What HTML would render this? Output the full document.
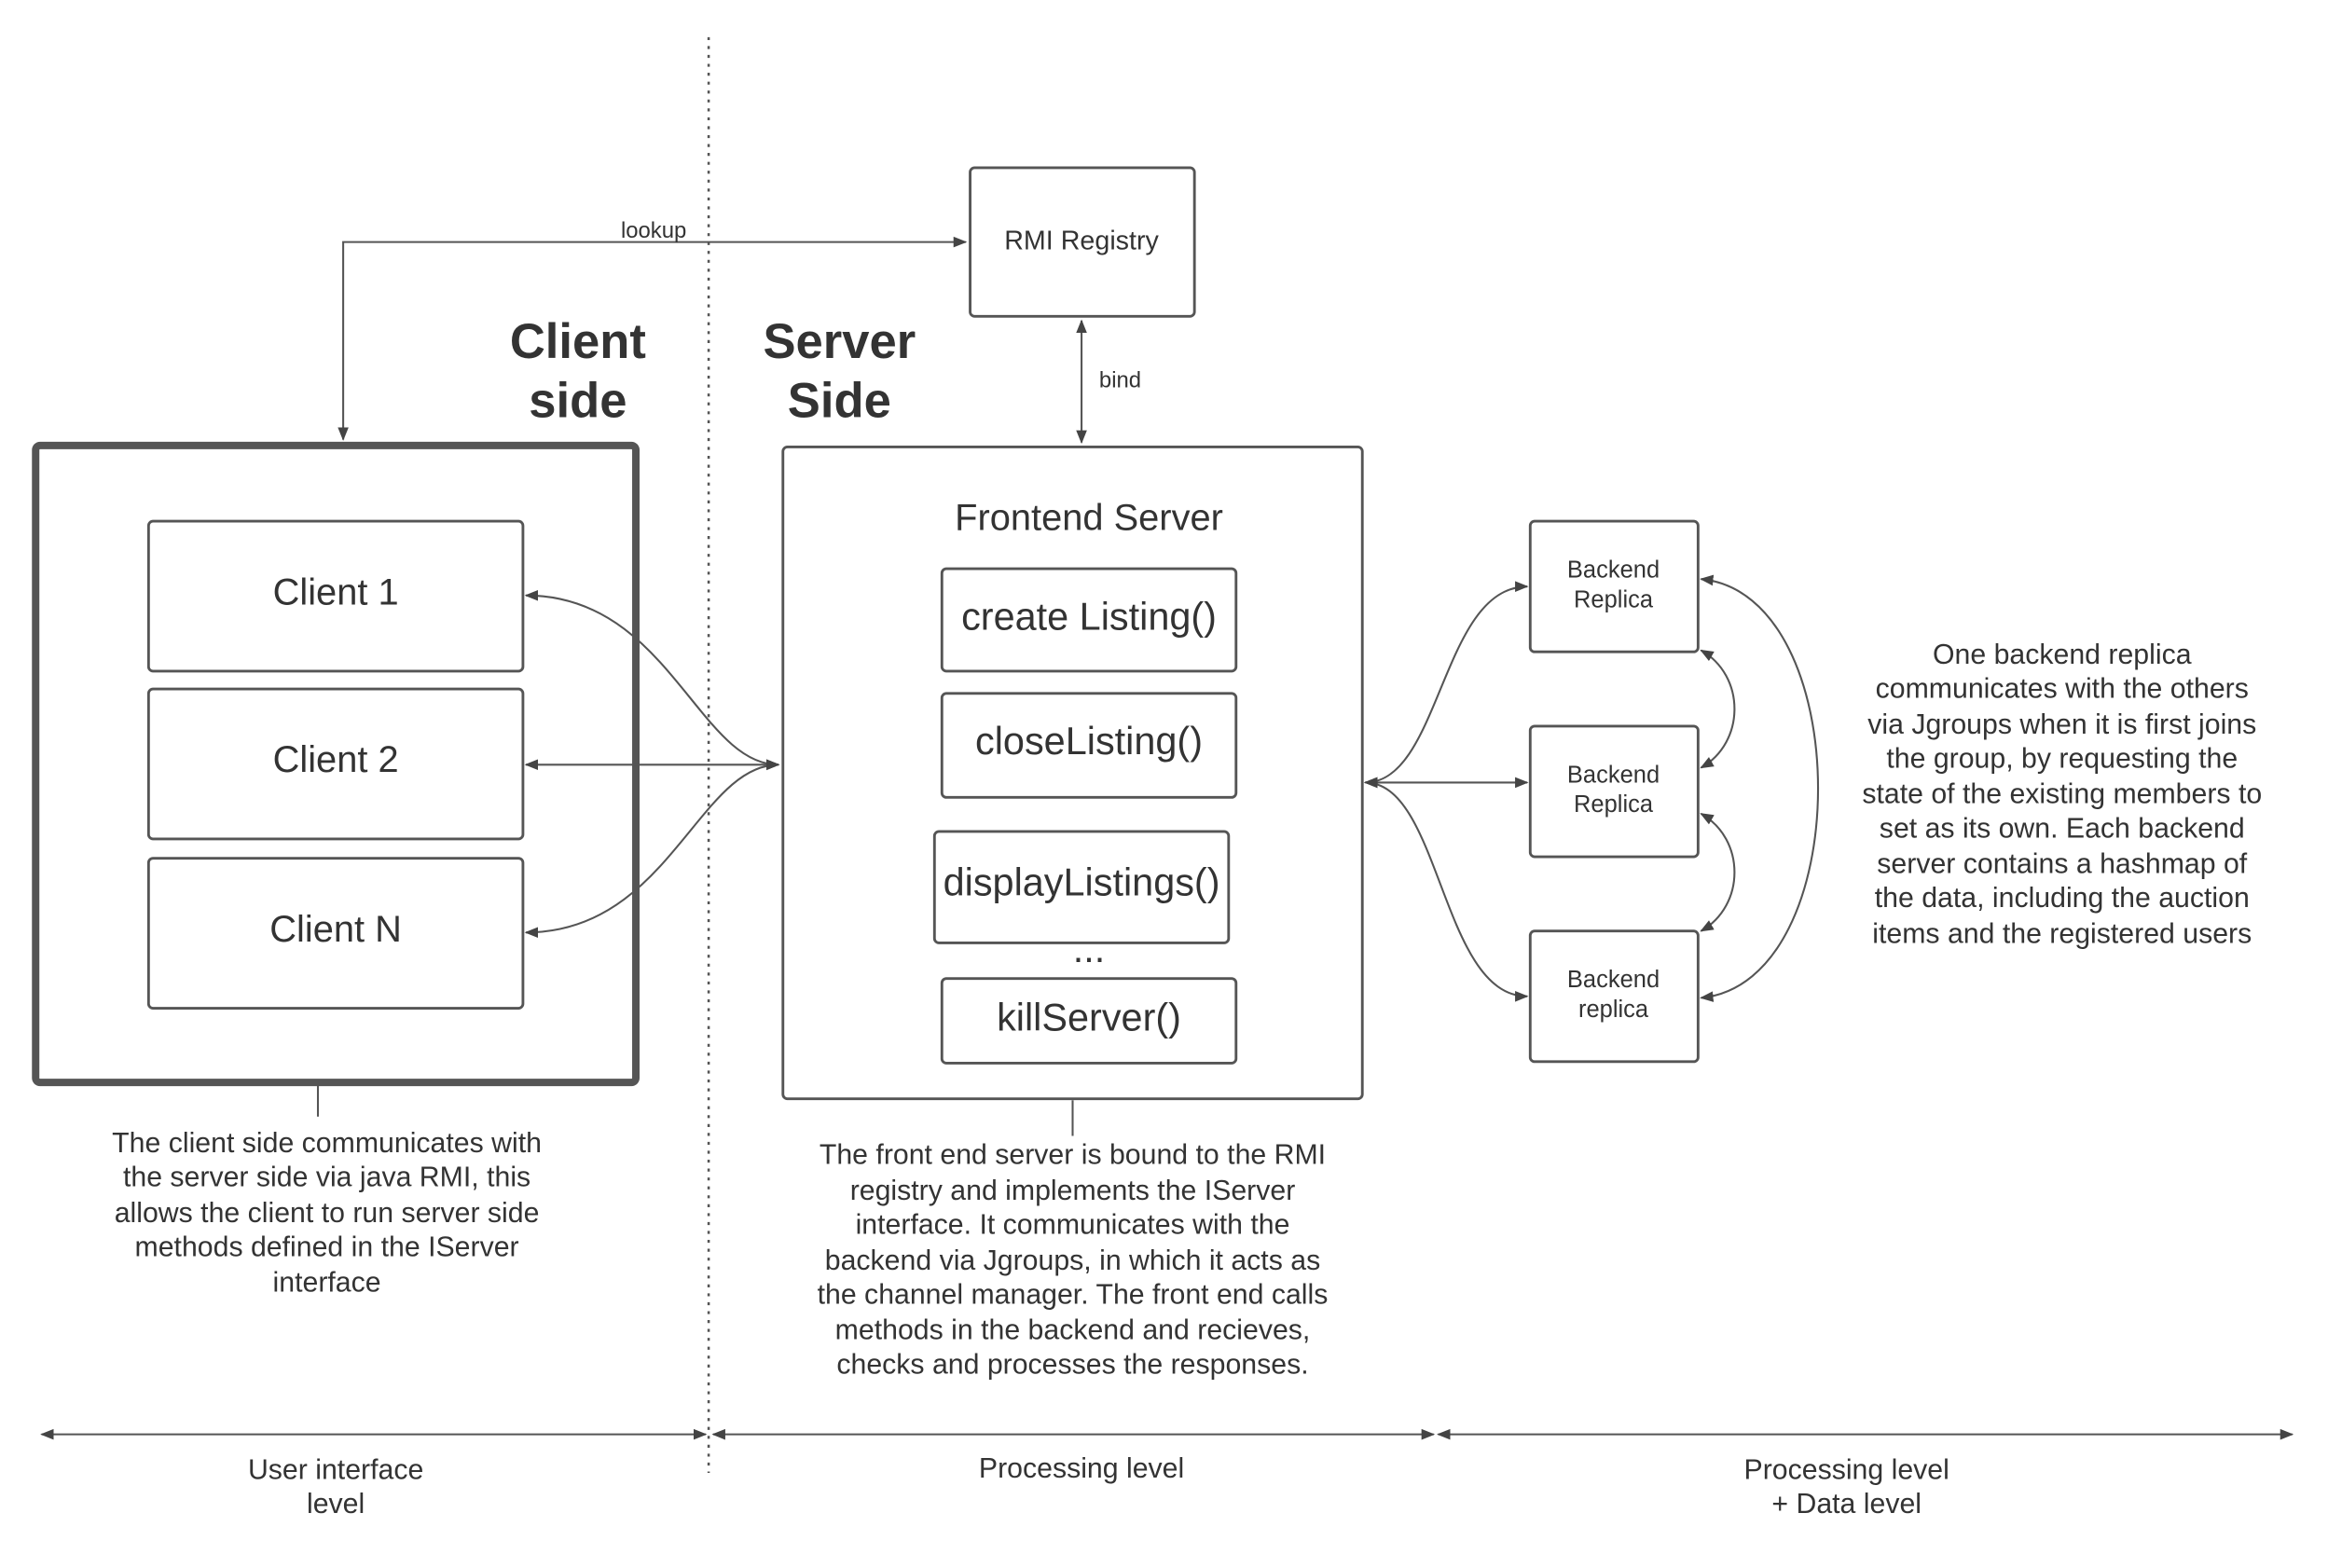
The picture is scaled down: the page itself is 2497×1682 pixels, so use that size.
<!DOCTYPE html>
<html><head><meta charset="utf-8"><style>
html,body{margin:0;padding:0;background:#fff;}
svg{display:block;}
text{font-family:"Liberation Sans",sans-serif;fill:#333;}
</style></head><body>
<svg width="2497" height="1682" viewBox="0 0 1567 1056" preserveAspectRatio="none" xmlns="http://www.w3.org/2000/svg">
<defs>
<marker id="a" viewBox="0 0 10 10" refX="9" refY="5" markerWidth="7" markerHeight="7" orient="auto-start-reverse"><path d="M0,1 L10,5 L0,9 z" fill="#444"/></marker>
</defs>
<g fill="none" stroke="#555" stroke-width="1.3">
<line x1="477" y1="25" x2="477" y2="992" stroke-dasharray="2,4" stroke-width="1.6"/>
<rect x="653" y="113" width="151" height="100" rx="3" stroke-width="1.8"/>
<polyline points="231,296 231,163 650,163" marker-start="url(#a)" marker-end="url(#a)"/>
<line x1="728" y1="216" x2="728" y2="298" marker-start="url(#a)" marker-end="url(#a)"/>
<rect x="24" y="300" width="404" height="429" rx="3" stroke-width="5"/>
<rect x="100" y="351" width="252" height="101" rx="3" stroke-width="1.8"/>
<rect x="100" y="464" width="252" height="101" rx="3" stroke-width="1.8"/>
<rect x="100" y="578" width="252" height="101" rx="3" stroke-width="1.8"/>
<rect x="527" y="301" width="390" height="439" rx="3" stroke-width="1.8"/>
<rect x="634" y="383" width="198" height="69" rx="3" stroke-width="1.8"/>
<rect x="634" y="467" width="198" height="70" rx="3" stroke-width="1.8"/>
<rect x="629" y="560" width="198" height="75" rx="3" stroke-width="1.8"/>
<rect x="634" y="659" width="198" height="57" rx="3" stroke-width="1.8"/>
<path d="M524,515 C470,515 450,401 354,401" marker-start="url(#a)" marker-end="url(#a)"/>
<line x1="524" y1="515" x2="354" y2="515" marker-start="url(#a)" marker-end="url(#a)"/>
<path d="M524,515 C470,515 450,628 354,628" marker-start="url(#a)" marker-end="url(#a)"/>
<rect x="1030" y="351" width="113" height="88" rx="3" stroke-width="1.8"/>
<rect x="1030" y="489" width="113" height="88" rx="3" stroke-width="1.8"/>
<rect x="1030" y="627" width="113" height="88" rx="3" stroke-width="1.8"/>
<path d="M919,527 C970,527 970,395 1028,395" marker-start="url(#a)" marker-end="url(#a)"/>
<line x1="919" y1="527" x2="1028" y2="527" marker-start="url(#a)" marker-end="url(#a)"/>
<path d="M919,527 C970,527 970,671 1028,671" marker-start="url(#a)" marker-end="url(#a)"/>
<path d="M1145,438 C1175,455 1175,500 1145,517" marker-start="url(#a)" marker-end="url(#a)"/>
<path d="M1145,548 C1175,565 1175,610 1145,627" marker-start="url(#a)" marker-end="url(#a)"/>
<path d="M1145,390 C1250,400 1250,662 1145,672" marker-start="url(#a)" marker-end="url(#a)"/>
<line x1="214" y1="731" x2="214" y2="752"/>
<line x1="722" y1="741" x2="722" y2="765"/>
<line x1="28" y1="966" x2="475" y2="966" marker-start="url(#a)" marker-end="url(#a)"/>
<line x1="480" y1="966" x2="965" y2="966" marker-start="url(#a)" marker-end="url(#a)"/>
<line x1="968" y1="966" x2="1543" y2="966" marker-start="url(#a)" marker-end="url(#a)"/>
</g>
<g text-anchor="middle">
<text x="728" y="168" font-size="18">RMI Registry</text>
<text x="440" y="160" font-size="15">lookup</text>
<text x="754" y="261" font-size="15">bind</text>
<text x="389" y="241" font-size="33" font-weight="bold">Client</text>
<text x="389" y="281" font-size="33" font-weight="bold">side</text>
<text x="565" y="241" font-size="33" font-weight="bold">Server</text>
<text x="565" y="281" font-size="33" font-weight="bold">Side</text>
<text x="226" y="407" font-size="25">Client 1</text>
<text x="226" y="520" font-size="25">Client 2</text>
<text x="226" y="634" font-size="25">Client N</text>
<text x="733" y="357" font-size="25">Frontend Server</text>
<text x="733" y="424" font-size="26">create Listing()</text>
<text x="733" y="508" font-size="26">closeListing()</text>
<text x="728" y="603" font-size="26">displayListings()</text>
<text x="733" y="648" font-size="26">...</text>
<text x="733" y="694" font-size="26">killServer()</text>
<text x="1086" y="389" font-size="16">Backend</text>
<text x="1086" y="409" font-size="16">Replica</text>
<text x="1086" y="527" font-size="16">Backend</text>
<text x="1086" y="547" font-size="16">Replica</text>
<text x="1086" y="665" font-size="16">Backend</text>
<text x="1086" y="685" font-size="16">replica</text>
<g font-size="19">
<text x="220" y="776">The client side communicates with</text>
<text x="220" y="799">the server side via java RMI, this</text>
<text x="220" y="823">allows the client to run server side</text>
<text x="220" y="846">methods defined in the IServer</text>
<text x="220" y="870">interface</text>
<text x="722" y="784">The front end server is bound to the RMI</text>
<text x="722" y="808">registry and implements the IServer</text>
<text x="722" y="831">interface. It communicates with the</text>
<text x="722" y="855">backend via Jgroups, in which it acts as</text>
<text x="722" y="878">the channel manager. The front end calls</text>
<text x="722" y="902">methods in the backend and recieves,</text>
<text x="722" y="925">checks and processes the responses.</text>
<text x="1388" y="447">One backend replica</text>
<text x="1388" y="470">communicates with the others</text>
<text x="1388" y="494">via Jgroups when it is first joins</text>
<text x="1388" y="517">the group, by requesting the</text>
<text x="1388" y="541">state of the existing members to</text>
<text x="1388" y="564">set as its own. Each backend</text>
<text x="1388" y="588">server contains a hashmap of</text>
<text x="1388" y="611">the data, including the auction</text>
<text x="1388" y="635">items and the registered users</text>
<text x="226" y="996">User interface</text>
<text x="226" y="1019">level</text>
<text x="728" y="995">Processing level</text>
<text x="1243" y="996">Processing level</text>
<text x="1243" y="1019">+ Data level</text>
</g>
</g>
</svg>
</body></html>
